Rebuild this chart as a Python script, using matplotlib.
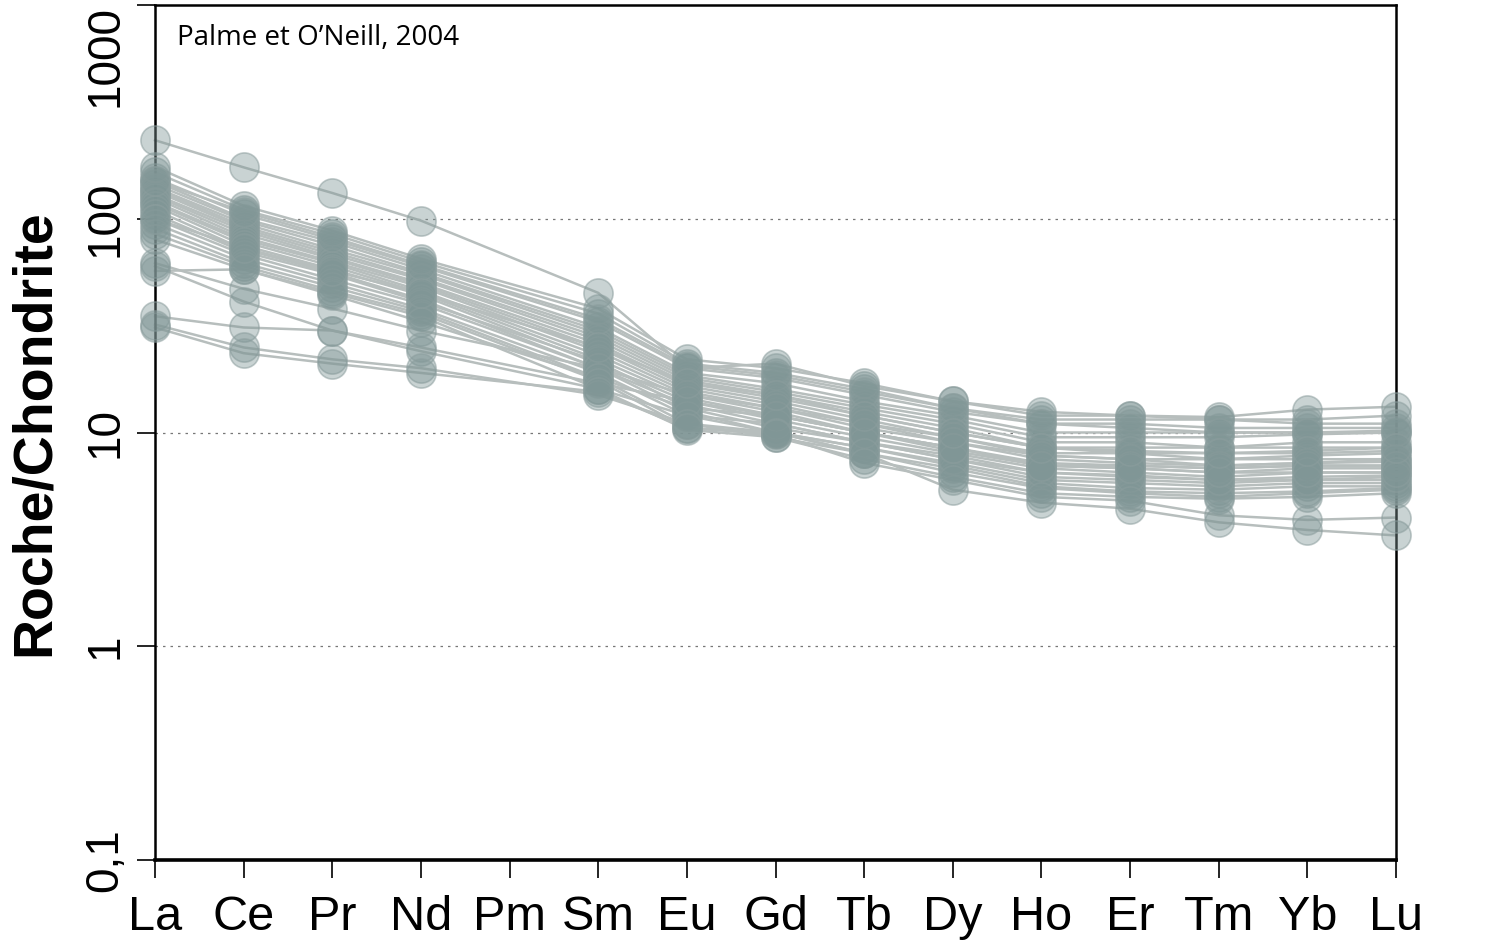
import matplotlib
matplotlib.use("Agg")
import matplotlib.pyplot as plt
import numpy as np

elements = ["La", "Ce", "Pr", "Nd", "Pm", "Sm", "Eu", "Gd", "Tb", "Dy", "Ho", "Er", "Tm", "Yb", "Lu"]
measured = ["La", "Ce", "Pr", "Nd", "Sm", "Eu", "Gd", "Tb", "Dy", "Ho", "Er", "Tm", "Yb", "Lu"]

# Chondrite-normalised values, one entry per sample (30 samples)
La = [233, 165, 155, 150, 145, 140, 138, 135, 130, 128, 125, 120, 118, 115, 110, 105, 100, 95, 90, 85, 80, 62, 57, 60, 35, 32, 31, 175, 150, 100]
Ce = [174, 110, 105, 100, 98, 95, 92, 90, 88, 85, 82, 80, 78, 75, 72, 70, 68, 65, 62, 60, 58, 47, 58, 41, 31, 25, 23.5, 115, 108, 73]
Pr = [132, 85, 80, 78, 75, 72, 70, 68, 66, 65, 63, 62, 60, 58, 56, 55, 52, 50, 48, 46, 45, 38, 44, 30, 30, 22, 21, 88, 82, 57]
Nd = [98, 63, 60, 58, 56, 55, 53, 52, 50, 49, 48, 46, 45, 44, 42, 41, 40, 38, 37, 36, 35, 30, 33, 24, 25, 20, 19, 65, 61, 45]
Sm = [45, 36, 33, 31, 30, 29, 28, 27, 26, 25, 24, 23, 22, 21, 20, 21.5, 20, 19, 18, 17.5, 16, 20, 18, 16, 17, 15, 15.5, 38, 34, 25]
Eu = [20, 21, 20, 19, 18.5, 18, 17.5, 17, 16.5, 16, 15.5, 15, 14.5, 14, 13.5, 13, 12.5, 12, 11, 10.5, 10.3, 15, 13, 12, 14, 11, 10.5, 22, 20.5, 17]
Gd = [21, 19, 18, 17, 16, 15.5, 15, 14.5, 14, 13.5, 13, 12.5, 12, 11.5, 11, 10.5, 10, 10, 9.5, 10, 9.5, 13, 12, 11, 12, 10, 9.8, 20, 18.5, 15]
Tb = [16.5, 16, 15, 14, 13.5, 13, 12.5, 12, 11.5, 11, 10.5, 10, 10, 9.5, 9, 9, 8.5, 8.5, 8, 8, 7.5, 11, 10, 9, 10, 8, 7.2, 17, 15.5, 12]
Dy = [14, 13, 12.5, 12, 11.5, 11, 10.5, 10, 9.5, 9.5, 9, 8.5, 8.2, 8, 7.8, 7.5, 7.2, 7, 6.8, 6.5, 6.2, 9, 8.5, 7.5, 8.5, 5.4, 6, 14, 13, 10]
Ho = [12.5, 11.5, 11, 10, 9.5, 9, 8.5, 8.5, 8, 7.8, 7.5, 7.2, 7, 6.8, 6.5, 6.2, 6, 5.8, 5.6, 5.5, 5.2, 7.8, 7, 6.5, 7, 4.7, 5, 12, 11, 8.5]
Er = [12, 11.5, 11, 10, 9.5, 9, 8.5, 8, 8, 7.5, 7.2, 7, 6.8, 6.5, 6.3, 6, 5.8, 5.5, 5.3, 5.2, 5, 7.5, 7, 6.2, 6.8, 4.4, 4.8, 12, 10.5, 8.2]
Tm = [11.8, 11.5, 10.5, 10, 9.5, 8.5, 8.5, 8, 7.5, 7.5, 7, 6.8, 6.5, 6.2, 6, 5.8, 5.6, 5.4, 5.2, 5.0, 4.9, 7, 6.8, 6, 6.5, 3.8, 4.1, 11.5, 10, 8]
Yb = [12.8, 11.5, 10.5, 10, 9.8, 9, 8.5, 8, 7.8, 7.5, 7.2, 7, 6.8, 6.5, 6.2, 6, 5.8, 5.6, 5.3, 5.2, 5, 7.2, 7, 6, 6.5, 3.5, 3.9, 11, 10, 8.2]
Lu = [13.2, 12, 10.5, 10, 10, 9, 8.5, 8.2, 8, 7.5, 7.3, 7, 6.8, 6.5, 6.3, 6, 5.8, 5.6, 5.5, 5.4, 5.2, 7.5, 7, 6.2, 6.5, 3.3, 4.0, 11, 10.2, 8.5]

columns = [La, Ce, Pr, Nd, Sm, Eu, Gd, Tb, Dy, Ho, Er, Tm, Yb, Lu]
ytick_vals = [0.1, 1, 10, 100, 1000]
ytick_labels = ["0,1", "1", "10", "100", "1000"]

fig = plt.figure(figsize=(15, 9.47), dpi=100)
ax = fig.add_axes([155 / 1500, 1 - 860 / 947, (1396 - 155) / 1500, (860 - 5) / 947])

xpos = [elements.index(e) for e in measured]
data = np.array(columns).T  # samples x elements

line_col = "#b7bebd"
face = (0.50, 0.59, 0.59, 0.42)
edge = (0.55, 0.62, 0.62, 0.55)

for row in data:
    ax.plot(xpos, row, color=line_col, lw=1.8, zorder=2, clip_on=False)
for row in data:
    ax.plot(xpos, row, ls="none", marker="o", ms=21, mfc=face, mec=edge, mew=1.2,
            zorder=3, clip_on=False)

ax.set_yscale("log")
ax.set_ylim(0.1, 1000)
ax.set_xlim(0, len(elements) - 1)

for v in [1, 10, 100]:
    ax.axhline(v, color="#777777", lw=0.9, ls=(0, (2, 4)), zorder=1)

ax.set_xticks(range(len(elements)))
ax.set_xticklabels(elements, fontsize=35, family="Liberation Sans")
ax.set_yticks(ytick_vals)
ax.set_yticklabels(ytick_labels, fontsize=33, family="Liberation Sans", rotation=90, va="center")
ax.yaxis.set_minor_locator(matplotlib.ticker.NullLocator())
ax.tick_params(axis="y", direction="out", length=13, width=1.2, pad=7)
ax.tick_params(axis="x", direction="out", length=13, width=1.2, pad=12)
labs = ax.get_yticklabels()
labs[-1].set_va("top")

for s in ["left", "right", "top"]:
    ax.spines[s].set_linewidth(1.8)
ax.spines["bottom"].set_linewidth(2.6)

ax.set_ylabel("Roche/Chondrite", fontsize=40, fontweight="bold", family="Liberation Sans", labelpad=16)

ax.text(177 / 1500, 1 - 45 / 947, "Palme et O\u2019Neill, 2004", transform=fig.transFigure,
        fontsize=20, family="Open Sans", va="baseline", ha="left")

fig.savefig("out.png", dpi=100)
